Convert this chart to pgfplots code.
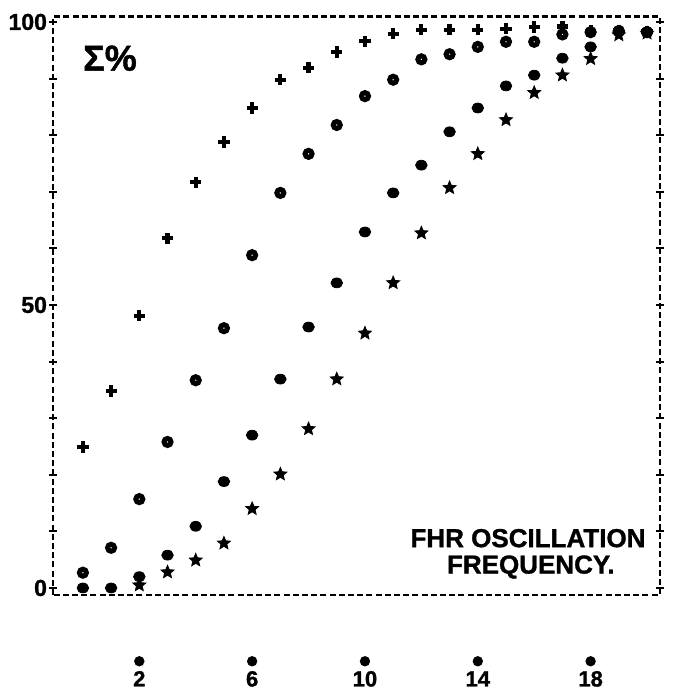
\documentclass[border=0pt]{standalone}
\usepackage{fontspec}
\setmainfont{Liberation Sans}[BoldFeatures={FakeBold=1.2}]
\usepackage{pgfplots}
\pgfplotsset{compat=1.18}

% filled five-pointed star
\pgfdeclareplotmark{fstar}{%
  \pgfpathmoveto{\pgfpointpolar{90}{\pgfplotmarksize}}%
  \pgfpathlineto{\pgfpointpolar{126}{0.45\pgfplotmarksize}}%
  \pgfpathlineto{\pgfpointpolar{162}{\pgfplotmarksize}}%
  \pgfpathlineto{\pgfpointpolar{198}{0.45\pgfplotmarksize}}%
  \pgfpathlineto{\pgfpointpolar{234}{\pgfplotmarksize}}%
  \pgfpathlineto{\pgfpointpolar{270}{0.45\pgfplotmarksize}}%
  \pgfpathlineto{\pgfpointpolar{306}{\pgfplotmarksize}}%
  \pgfpathlineto{\pgfpointpolar{342}{0.45\pgfplotmarksize}}%
  \pgfpathlineto{\pgfpointpolar{18}{\pgfplotmarksize}}%
  \pgfpathlineto{\pgfpointpolar{54}{0.45\pgfplotmarksize}}%
  \pgfpathclose
  \pgfusepathqfillstroke
}
% the dot printed above each x tick number
\newcommand{\bul}{\tikz\fill (0,0) circle (2.6pt);}

\begin{document}
\begin{tikzpicture}
\begin{axis}[
    name=ax,
    scale only axis,
    width=303.5pt, height=289.25pt,
    xmin=-1.06, xmax=20.46,
    ymin=-1.24, ymax=100.97,
    clip=false,
    axis line style={line width=1.2pt, dash pattern=on 3pt off 1.6pt},
    every tick/.style={black, solid, line width=1pt},
    tick align=center,
    major tick length=4pt, minor tick length=4pt,
    xtick={2,6,10,14,18},
    xticklabels={{\bul\\2},{\bul\\6},{\bul\\10},{\bul\\14},{\bul\\18}},
    xtick style={draw=none},
    xticklabel style={align=center, font=\fontsize{11}{10}\selectfont\bfseries, yshift=-25pt},
    ytick={0,50,100},
    yticklabels={0,50,100},
    minor ytick={10,20,30,40,60,70,80,90},
    ytick pos=both,
    yticklabel pos=left,
    yticklabel style={font=\fontsize{11.5}{12}\selectfont\bfseries, xshift=2.5pt},
]
% + series
\addplot[only marks, black, mark=+, mark options={line width=2.1pt, mark size=2.8pt}] coordinates {
(0,24.9) (1,34.8) (2,48.1) (3,61.8) (4,71.7) (5,78.8) (6,84.8) (7,89.8)
(8,91.9) (9,94.7) (10,96.6) (11,97.9) (12,98.6) (13,98.6) (14,98.6)
(15,98.8) (16,99.1) (17,99.2) (18,98.4) (19,98.5) (20,98.3)
};
% star series
\addplot[only marks, black, mark=fstar, mark options={mark size=3.4pt, line width=0.4pt, fill=black}] coordinates {
(2,0.5) (3,2.8) (4,4.9) (5,7.9) (6,14.0) (7,20.1) (8,28.1) (9,36.9)
(10,45.0) (11,53.9) (12,62.7) (13,70.7) (14,76.7) (15,82.7) (16,87.5)
(17,90.6) (18,93.5) (19,97.7) (20,98.0)
};
% ring series
\addplot[only marks, black, mark=o, mark options={mark size=1.75pt, line width=2.5pt}] coordinates {
(0,2.7) (1,7.1) (2,15.7) (3,25.8) (4,36.7) (5,45.9) (6,58.8) (7,69.8)
(8,76.7) (9,81.8) (10,86.9) (11,89.8) (12,93.4) (13,94.3) (14,95.6)
(15,96.5) (16,96.5) (17,97.8) (18,98.2) (19,98.4) (20,98.2)
};
% dot series
\addplot[only marks, black, mark=*, mark options={mark size=2.9pt, yscale=0.85}] coordinates {
(0,0) (1,0) (2,2.0) (3,5.8) (4,10.9) (5,18.8) (6,27.0) (7,36.9)
(8,46.1) (9,53.9) (10,62.9) (11,69.8) (12,74.7) (13,80.6) (14,84.8)
(15,88.7) (16,90.6) (17,93.6) (18,95.6) (19,98.3) (20,98.2)
};
\node[font=\fontsize{18}{20}\selectfont\bfseries] at (axis cs:0.96,93.6) {Σ\%};
\node[font=\fontsize{13}{14}\selectfont\bfseries] at (axis cs:15.78,8.8) {FHR OSCILLATION};
\node[font=\fontsize{13}{14}\selectfont\bfseries] at (axis cs:15.88,3.7) {FREQUENCY.};
\end{axis}
\pgfresetboundingbox
\path (ax.south west) ++(-26.5pt,-46.5pt) rectangle ++(336pt,344pt);
\end{tikzpicture}
\end{document}
